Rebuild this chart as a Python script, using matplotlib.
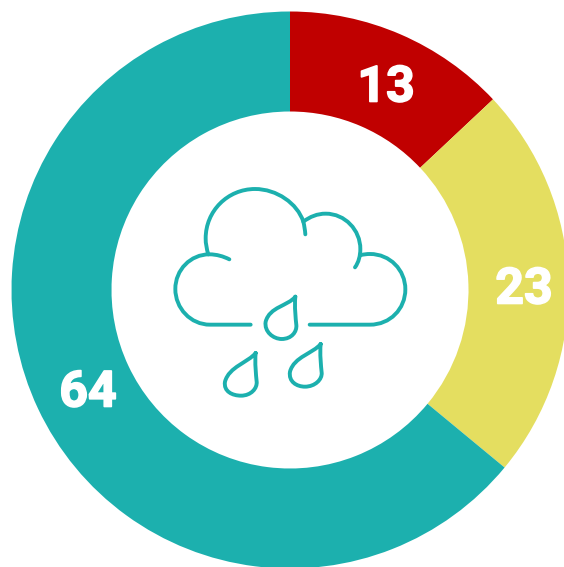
import matplotlib
matplotlib.use("Agg")
import matplotlib.pyplot as plt
import matplotlib.patheffects as pe
from matplotlib.path import Path
from matplotlib.patches import PathPatch

# Data
categories = ["Red", "Yellow", "Teal"]
values = [13, 23, 64]
labels = ["13", "23", "64"]
colors = ["#C00000", "#E4DE60", "#1CB0AE"]

W, H = 564, 567
fig = plt.figure(figsize=(W / 100, H / 100), dpi=100, facecolor="white")
ax = fig.add_axes([0, 0, 1, 1])

CX, CY, R, RIN = 290, 290, 278.5, 178.5
ax.pie(values, colors=colors, startangle=90, counterclock=False,
       center=(CX, H - CY), radius=R, frame=True,
       wedgeprops=dict(width=R - RIN, linewidth=0))
ax.set_xlim(0, W)
ax.set_ylim(0, H)
ax.set_aspect("equal")
ax.axis("off")

label_pos = [(386, 83), (524, 285), (88, 388)]
for t, (x, y) in zip(labels, label_pos):
    ax.text(x, H - y, t, color="white", fontsize=36, fontweight="bold",
            family="Roboto", ha="center", va="center_baseline",
            path_effects=[pe.withStroke(linewidth=1.2, foreground="white")])


# Weather icon, traced in zoom-crop units (3x, origin at 160,175)
def P(x, y):
    return (160 + x / 3, H - (175 + y / 3))


def stroke(segments):
    verts, codes = [], []
    for seg in segments:
        if seg[0] == "M":
            verts.append(P(*seg[1])); codes.append(Path.MOVETO)
        elif seg[0] == "L":
            verts.append(P(*seg[1])); codes.append(Path.LINETO)
        else:
            for p in seg[1:]:
                verts.append(P(*p)); codes.append(Path.CURVE4)
    ax.add_patch(PathPatch(Path(verts, codes), fill=False, edgecolor="#1CB0AE",
                           linewidth=2.8, capstyle="round", joinstyle="round"))


stroke([("M", (272, 449)), ("L", (150, 449)),
        ("C", (92, 449), (46, 400), (46, 342)),
        ("C", (46, 284), (92, 238), (148, 238)),
        ("C", (170, 238), (190, 244), (208, 253))])
stroke([("M", (145, 238)),
        ("C", (140, 222), (137, 206), (137, 190)),
        ("C", (137, 108), (203, 42), (285, 42)),
        ("C", (350, 42), (412, 85), (430, 140)),
        ("C", (433, 152), (435, 165), (436, 178))])
stroke([("M", (430, 140)),
        ("C", (450, 125), (472, 116), (497, 116)),
        ("C", (555, 116), (601, 165), (601, 222)),
        ("C", (601, 242), (596, 262), (585, 277))])
stroke([("M", (600, 241)),
        ("C", (610, 238), (620, 237), (630, 237)),
        ("C", (690, 237), (736, 285), (736, 343)),
        ("C", (736, 402), (690, 449), (630, 449)),
        ("L", (449, 449))])


def drop(tx, ty, lx, ly, bx, by):
    stroke([("M", (tx, ty)),
            ("C", (tx - 22, ty + 28), (tx + lx + 12, ty + ly - 45), (tx + lx, ty + ly)),
            ("C", (tx + lx - 5, ty + ly + 30), (tx + bx - 25, ty + by), (tx + bx, ty + by)),
            ("C", (tx + bx + 30, ty + by), (tx + 5, ty + by - 22), (tx + 3, ty + by - 42)),
            ("C", (tx + 1, ty + 65), (tx - 3, ty + 30), (tx, ty))])


drop(406, 365, -89, 75, -41, 127)
drop(287, 534, -92, 86, -44, 128)
drop(482, 507, -92, 83, -47, 128)

fig.savefig("out.png", dpi=100, facecolor="white")
